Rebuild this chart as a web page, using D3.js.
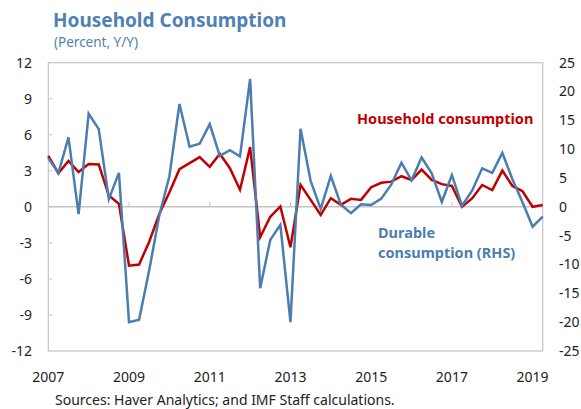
<!doctype html>
<html>
<head>
<meta charset="utf-8">
<script src="https://d3js.org/d3.v7.min.js"></script>
<style>
  body { margin: 0; background: #fff; }
  text { font-family: "Noto Sans", "Open Sans", sans-serif; }
</style>
</head>
<body>
<script>
// quarterly, 2007Q1 .. 2019Q2
var quarters = d3.range(50).map(function(i) {
  return (2007 + Math.floor(i / 4)) + "Q" + (i % 4 + 1);
});

// Household consumption, percent y/y (left axis)
var household = [4.25, 2.8, 3.83, 2.9, 3.56, 3.53, 0.94, 0.25, -4.9, -4.8,
  -2.9, -0.6, 1.2, 3.14, 3.64, 4.14, 3.33, 4.42, 3.22, 1.42,
  4.97, -2.53, -0.83, 0.03, -3.36, 1.83, 0.58, -0.67, 0.72, 0.17,
  0.67, 0.58, 1.64, 2.0, 2.1, 2.55, 2.24, 3.1, 2.24, 1.89,
  1.74, 0.0, 0.7, 1.82, 1.4, 3.02, 1.74, 1.3, 0.0, 0.15];

// Durable consumption, percent y/y (right axis)
var durable = [8.45, 5.84, 12.04, -1.27, 16.15, 13.48, 1.33, 5.9, -20.0, -19.56,
  -11.0, -1.5, 5.3, 17.85, 10.42, 10.94, 14.35, 8.85, 9.84, 8.74,
  22.2, -14.1, -5.73, -3.13, -20.0, 13.54, 4.51, -0.35, 5.38, 0.35,
  -1.1, 0.46, 0.32, 1.42, 3.9, 7.67, 4.6, 8.56, 5.8, 0.84,
  5.53, 0.2, 2.8, 6.68, 5.9, 9.35, 4.8, 0.8, -3.45, -1.7];

var leftTicks = [12, 9, 6, 3, 0, -3, -6, -9, -12];
var rightTicks = [25, 20, 15, 10, 5, 0, -5, -10, -15, -20, -25];
var yearLabels = ["2007", "2009", "2011", "2013", "2015", "2017", "2019"];

var W = 581, H = 409;
var red = "#c00000", blue = "#4a7eb0", grid = "#c4c4c4";

var svg = d3.select("body").append("svg")
  .attr("width", W).attr("height", H);

var x = d3.scaleLinear().domain([0, quarters.length - 1]).range([48.3, 542.7]);
var yL = d3.scaleLinear().domain([-12, 12]).range([351, 62.7]);
var yR = d3.scaleLinear().domain([-25, 25]).range([351, 62.7]);

// title
svg.append("text").attr("x", 53).attr("y", 27)
  .attr("font-size", 19).attr("font-weight", "bold").attr("fill", "#4f81b4")
  .text("Household Consumption");
svg.append("text").attr("x", 54).attr("y", 46.5)
  .attr("font-size", 13.5).attr("fill", "#4f81b4")
  .text("(Percent, Y/Y)");

// frame
svg.append("rect")
  .attr("x", x.range()[0]).attr("y", yL.range()[1])
  .attr("width", x.range()[1] - x.range()[0])
  .attr("height", yL.range()[0] - yL.range()[1])
  .attr("fill", "none").attr("stroke", grid).attr("stroke-width", 1.2);

// zero line + small ticks
svg.append("line")
  .attr("x1", x.range()[0]).attr("x2", x.range()[1])
  .attr("y1", yL(0)).attr("y2", yL(0))
  .attr("stroke", grid).attr("stroke-width", 1.5);

var labelIdx = yearLabels.map(function(y) { return quarters.indexOf(y + "Q1"); });

svg.selectAll(".xtick").data(labelIdx.slice(1)).enter().append("line")
  .attr("x1", function(d) { return x(d); }).attr("x2", function(d) { return x(d); })
  .attr("y1", yL(0)).attr("y2", yL(0) - 5)
  .attr("stroke", grid).attr("stroke-width", 1);

svg.selectAll(".ytick").data(leftTicks.slice(1, -1)).enter().append("line")
  .attr("x1", x.range()[0]).attr("x2", x.range()[0] + 4)
  .attr("y1", function(d) { return yL(d); }).attr("y2", function(d) { return yL(d); })
  .attr("stroke", grid).attr("stroke-width", 1);

// axis labels
svg.selectAll(".ylab").data(leftTicks).enter().append("text")
  .attr("x", 32).attr("y", function(d) { return yL(d); }).attr("dy", "0.35em")
  .attr("text-anchor", "end").attr("font-size", 14).attr("fill", "#222")
  .text(function(d) { return d; });

svg.selectAll(".rlab").data(rightTicks).enter().append("text")
  .attr("x", 559).attr("y", function(d) { return yR(d); }).attr("dy", "0.35em")
  .attr("font-size", 14).attr("fill", "#222")
  .text(function(d) { return d; });

svg.selectAll(".xlab").data(yearLabels).enter().append("text")
  .attr("x", function(d, i) { return x(labelIdx[i]); }).attr("y", 377).attr("dy", "0.35em")
  .attr("text-anchor", "middle").attr("font-size", 14).attr("fill", "#222")
  .text(function(d) { return d; });

// lines
var lineL = d3.line().x(function(d, i) { return x(i); }).y(function(d) { return yL(d); });
var lineR = d3.line().x(function(d, i) { return x(i); }).y(function(d) { return yR(d); });

svg.append("path").datum(household).attr("d", lineL)
  .attr("fill", "none").attr("stroke", red).attr("stroke-width", 2.5)
  .attr("stroke-linejoin", "miter");
svg.append("path").datum(durable).attr("d", lineR)
  .attr("fill", "none").attr("stroke", blue).attr("stroke-width", 2.5)
  .attr("stroke-linejoin", "miter");

// series labels
svg.append("text").attr("x", 357).attr("y", 123.5)
  .attr("font-size", 14.5).attr("font-weight", "bold").attr("fill", red)
  .text("Household consumption");
svg.append("text").attr("x", 378).attr("y", 238)
  .attr("font-size", 14.5).attr("font-weight", "bold").attr("fill", blue)
  .text("Durable");
svg.append("text").attr("x", 378).attr("y", 257.5)
  .attr("font-size", 14.5).attr("font-weight", "bold").attr("fill", blue)
  .text("consumption (RHS)");

// source
svg.append("text").attr("x", 55).attr("y", 405)
  .attr("font-size", 14).attr("fill", "#222")
  .text("Sources: Haver Analytics; and IMF Staff calculations.");
</script>
</body>
</html>
